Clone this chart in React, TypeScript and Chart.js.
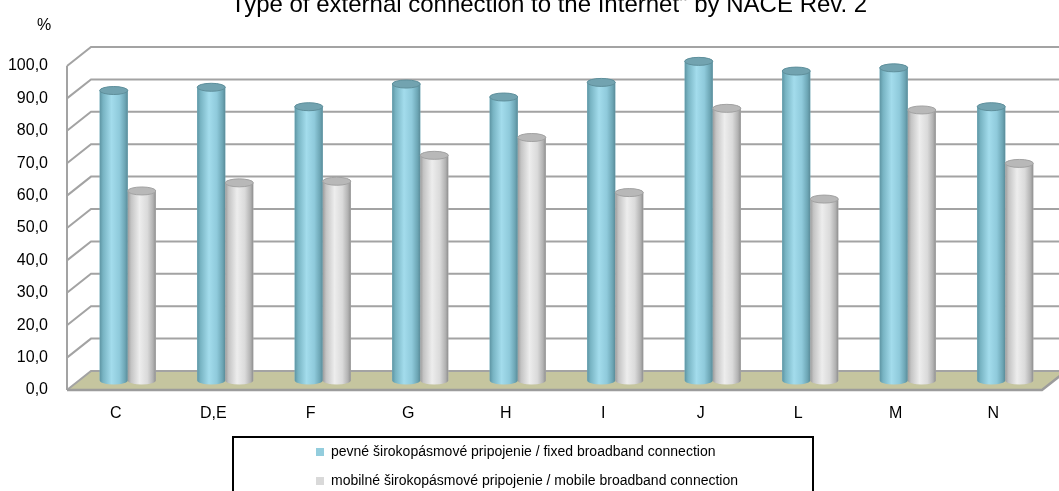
import React, { useEffect, useRef } from "react";
import { Chart, registerables } from "chart.js";

Chart.register(...registerables);

const categories = ["C", "D,E", "F", "G", "H", "I", "J", "L", "M", "N"];
const fixedBroadband = [89.5, 90.5, 84.5, 91.5, 87.5, 92, 98.5, 95.5, 96.5, 84.5];
const mobileBroadband = [58.5, 61, 61.5, 69.5, 75, 58, 84, 56, 83.5, 67];
const seriesLabels = [
  "pevné širokopásmové pripojenie / fixed broadband connection",
  "mobilné širokopásmové pripojenie / mobile broadband connection",
];
const yTickValues = [0, 10, 20, 30, 40, 50, 60, 70, 80, 90, 100];
const chartTitle = 'Type of external connection to the Internet" by NACE Rev. 2';
const unitLabel = "%";

const FONT = "'Liberation Sans', Arial, sans-serif";
const DX = 24;
const DY = 19;

const legendColors = ["#93cddd", "#d9d9d9"];
const cylinderStops = [
  [
    [0, "#5e95a3"],
    [0.12, "#78b4c3"],
    [0.42, "#a3dcec"],
    [0.7, "#8fcadb"],
    [0.9, "#6da6b5"],
    [1, "#5a8b98"],
  ],
  [
    [0, "#9c9c9c"],
    [0.12, "#c4c4c4"],
    [0.42, "#ededed"],
    [0.7, "#dadada"],
    [0.9, "#b2b2b2"],
    [1, "#8e8e8e"],
  ],
];
const topColors = ["#72a3b0", "#b8b8b8"];
const topStroke = ["#5f8f9b", "#a2a2a2"];

const frame3d = {
  id: "frame3d",
  beforeDatasetsDraw(chart: any) {
    const { ctx, chartArea, scales } = chart;
    const { left, right, bottom, top } = chartArea;
    const y = scales.y;
    const farRight = chart.width + DX;
    ctx.save();
    // floor
    ctx.fillStyle = "#c5c59f";
    ctx.beginPath();
    ctx.moveTo(left, bottom);
    ctx.lineTo(right, bottom);
    ctx.lineTo(right + DX, bottom - DY);
    ctx.lineTo(left + DX, bottom - DY);
    ctx.closePath();
    ctx.fill();
    // gridlines (left wall diagonals + back wall)
    ctx.strokeStyle = "#a3a3a3";
    ctx.lineWidth = 2;
    for (const v of yTickValues) {
      const fy = y.getPixelForValue(v);
      ctx.beginPath();
      ctx.moveTo(left, fy);
      ctx.lineTo(left + DX, fy - DY);
      ctx.lineTo(farRight, fy - DY);
      ctx.stroke();
    }
    // left wall front edge
    ctx.beginPath();
    ctx.moveTo(left, top);
    ctx.lineTo(left, bottom);
    ctx.stroke();
    // floor front edge
    ctx.strokeStyle = "#9c9c9c";
    ctx.lineWidth = 2.5;
    ctx.beginPath();
    ctx.moveTo(left, bottom);
    ctx.lineTo(right, bottom);
    ctx.lineTo(right + DX, bottom - DY);
    ctx.stroke();
    ctx.restore();
    ctx.save();
    ctx.translate(DX / 2, -DY / 2);
  },
  afterDatasetsDraw(chart: any) {
    const { ctx } = chart;
    chart.data.datasets.forEach((ds: any, di: number) => {
      const meta = chart.getDatasetMeta(di);
      meta.data.forEach((el: any) => {
        const { x, y, base, width } = el.getProps(["x", "y", "base", "width"], true);
        const rx = width / 2;
        const ry = 4;
        const l = x - rx;
        const r = x + rx;
        const g = ctx.createLinearGradient(l, 0, r, 0);
        cylinderStops[di].forEach(([o, c]: any) => g.addColorStop(o, c));
        ctx.beginPath();
        ctx.moveTo(l, y);
        ctx.lineTo(l, base);
        ctx.ellipse(x, base, rx, ry, 0, Math.PI, 0, true);
        ctx.lineTo(r, y);
        ctx.ellipse(x, y, rx, ry, 0, 0, Math.PI, true);
        ctx.closePath();
        ctx.fillStyle = g;
        ctx.fill();
        // top
        ctx.beginPath();
        ctx.ellipse(x, y, rx, ry, 0, 0, Math.PI * 2);
        ctx.fillStyle = topColors[di];
        ctx.fill();
        ctx.lineWidth = 1;
        ctx.strokeStyle = topStroke[di];
        ctx.stroke();
      });
    });
    ctx.restore();
  },
  afterDraw(chart: any) {
    const { ctx } = chart;
    ctx.save();
    ctx.fillStyle = "#000";
    ctx.textBaseline = "alphabetic";
    ctx.font = `24px ${FONT}`;
    ctx.textAlign = "center";
    ctx.fillText(chartTitle, 549, 12);
    ctx.font = `16px ${FONT}`;
    ctx.textAlign = "left";
    ctx.fillText(unitLabel, 37, 30);
    // legend
    ctx.strokeStyle = "#000";
    ctx.lineWidth = 2;
    ctx.strokeRect(233, 437, 580, 70);
    ctx.font = `14px ${FONT}`;
    ctx.textBaseline = "middle";
    const rows = [452, 481];
    chart.data.datasets.forEach((ds: any, i: number) => {
      ctx.fillStyle = legendColors[i];
      ctx.fillRect(316, rows[i] - 4, 8, 8);
      ctx.fillStyle = "#000";
      ctx.fillText(ds.label, 331, rows[i]);
    });
    ctx.restore();
  },
};

export default function App() {
  const ref = useRef<HTMLCanvasElement>(null);
  useEffect(() => {
    if (!ref.current) return;
    const chart = new Chart(ref.current, {
      type: "bar",
      data: {
        labels: categories,
        datasets: [
          {
            label: seriesLabels[0],
            data: fixedBroadband,
            backgroundColor: legendColors[0],
            categoryPercentage: 0.575,
            barPercentage: 1,
            clip: false as any,
          },
          {
            label: seriesLabels[1],
            data: mobileBroadband,
            backgroundColor: legendColors[1],
            categoryPercentage: 0.575,
            barPercentage: 1,
            clip: false as any,
          },
        ],
      },
      options: {
        animation: false,
        responsive: false,
        layout: { padding: { top: 66, right: 17, left: 0, bottom: 0 } },
        plugins: {
          legend: { display: false },
          title: { display: false },
          tooltip: { enabled: false },
        },
        scales: {
          x: {
            grid: { display: false, drawTicks: false },
            border: { display: false },
            ticks: { color: "#000", font: { size: 16, family: FONT }, padding: 14 },
            afterFit: (s: any) => {
              s.height = 101;
            },
          },
          y: {
            min: 0,
            max: 100,
            grid: { display: false, drawTicks: false },
            border: { display: false },
            afterBuildTicks: (s: any) => {
              s.ticks = yTickValues.map((v) => ({ value: v }));
            },
            ticks: {
              color: "#000",
              font: { size: 16, family: FONT },
              padding: 19,
              callback: (v: any) => Number(v).toFixed(1).replace(".", ","),
            },
            afterFit: (s: any) => {
              s.width = 67;
            },
          },
        },
      },
      plugins: [frame3d],
    });
    return () => chart.destroy();
  }, []);
  return (
    <div style={{ position: "absolute", left: 0, top: 0, width: 1059, height: 491 }}>
      <canvas ref={ref} width={1059} height={491} style={{ display: "block" }} />
    </div>
  );
}
